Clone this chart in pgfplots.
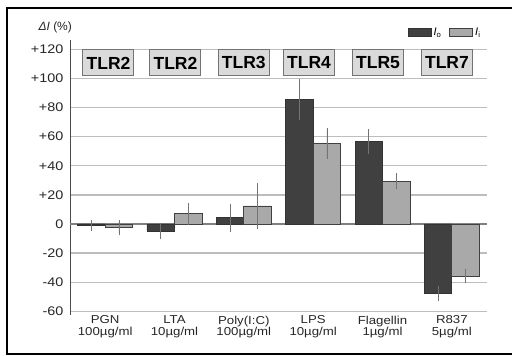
\documentclass[border=0pt]{standalone}
\usepackage{pgfplots}
\pgfplotsset{compat=1.18}
\usepackage{fontspec}
\setmainfont{Liberation Sans}
\newfontfamily\lab[FakeStretch=1.15]{Liberation Sans}
\definecolor{darkbar}{HTML}{404040}
\definecolor{lightbar}{HTML}{A9A9A9}
\definecolor{gridc}{HTML}{BDBDBD}
\definecolor{boxfill}{HTML}{DADADA}
\tikzset{tlr/.style={draw=black!55, fill=boxfill, line width=1pt, minimum width=51pt, minimum height=26pt, inner sep=0pt, font=\bfseries\fontsize{17.5}{17.5}\selectfont}}
\begin{document}
\begin{tikzpicture}[x=1pt,y=1pt]
\useasboundingbox (0,0) rectangle (512,356);
\draw[line width=1.8pt] (7,2) rectangle (530,348);
\begin{axis}[
  at={(70.5pt,41pt)}, anchor=south west,
  scale only axis, width=416pt, height=274.5pt,
  xmin=-0.5, xmax=5.5, ymin=-62.5, ymax=126,
  ybar=0pt, bar width=27.5pt,
  axis y line=left, axis x line=bottom,
  y axis line style={-, draw=black!70, line width=0.9pt},
  x axis line style={draw=none},
  major tick length=0pt,
  ytick={-60,-40,-20,0,20,40,60,80,100,120},
  yticklabels={-60,-40,-20,0,+20,+40,+60,+80,+100,+120},
  yticklabel style={font=\lab\fontsize{12.5}{13}\selectfont, inner sep=0pt, xshift=-7pt, text=black!85},
  xtick={0,1,2,3,4,5},
  xticklabels={{PGN\\100µg/ml},{LTA\\10µg/ml},{Poly(I:C)\\100µg/ml},{LPS\\10µg/ml},{Flagellin\\1µg/ml},{R837\\5µg/ml}},
  xticklabel style={font=\lab\fontsize{11.5}{11.5}\selectfont, align=center, inner sep=0pt, yshift=-0.5pt, text=black!85},
  ymajorgrids, grid style={gridc, line width=1.3pt},
  clip=false,
  legend style={at={(axis description cs:0.998,1.06)}, anchor=north east, draw=none, fill=none,
    font=\fontsize{11}{12}\selectfont, legend columns=2,
    /tikz/every even column/.append style={column sep=6pt}},
  legend image code/.code={\draw[#1] (0pt,-4pt) rectangle (23pt,4pt);},
  error bars/error bar style={color=black!55, line width=0.7pt},
  error bars/error mark options={mark size=1.6pt, color=black!55, line width=0.7pt},
]
\draw[black!50, line width=1.5pt] (axis cs:-0.5,0) -- (axis cs:5.5,0);
\addplot[fill=darkbar, draw=black!80, line width=0.8pt,
  error bars/.cd, y dir=both, y explicit]
  coordinates {(0,-1.2) +- (0,2.5) (1,-5) +- (0,4.5) (2,4.3) +- (0,8.5) (3,85.6) +- (0,13) (4,56.5) +- (0,7.5) (5,-47.6) +- (0,4)};
\addlegendentry{\textit{I}\textsubscript{o}}
\addplot[fill=lightbar, draw=black!75, line width=0.8pt,
  error bars/.cd, y dir=both, y explicit]
  coordinates {(0,-2.3) +- (0,4) (1,7) +- (0,6.3) (2,12.4) +- (0,14.5) (3,55.4) +- (0,9.5) (4,29.3) +- (0,4.5) (5,-35.7) +- (0,4)};
\addlegendentry{\textit{I}\textsubscript{i}}
\node[tlr] at (axis cs:0.048,110.6) {TLR2};
\node[tlr] at (axis cs:1.014,110.6) {TLR2};
\node[tlr] at (axis cs:2.0,110.6) {TLR3};
\node[tlr] at (axis cs:2.94,110.6) {TLR4};
\node[tlr] at (axis cs:3.935,110.6) {TLR5};
\node[tlr] at (axis cs:4.93,110.6) {TLR7};
\end{axis}
\node[anchor=west, font=\fontsize{12}{13}\selectfont, text=black!85] at (35,329) {\textit{ΔI} (\%)};
\end{tikzpicture}
\end{document}
